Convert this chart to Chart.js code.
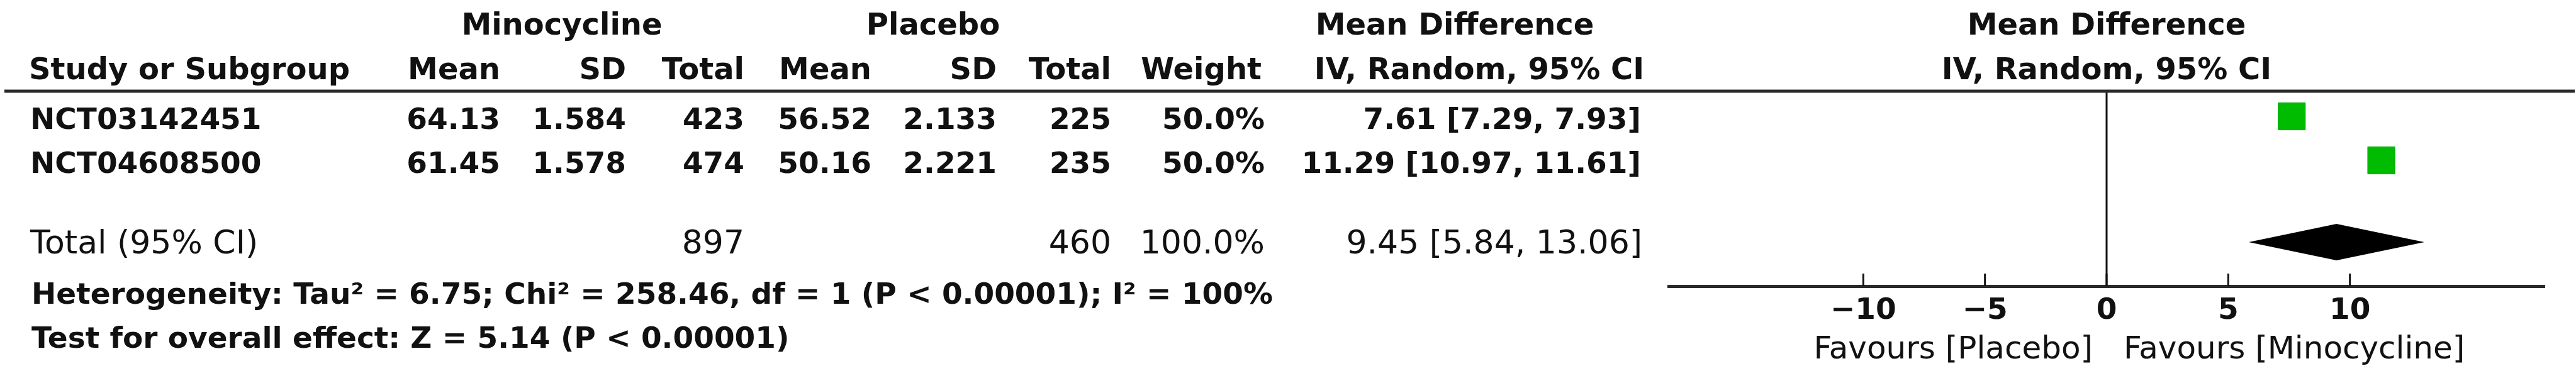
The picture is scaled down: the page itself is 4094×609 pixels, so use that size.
<!DOCTYPE html>
<html>
<head>
<meta charset="utf-8">
<script src="https://cdn.jsdelivr.net/npm/chart.js@4.4.1/dist/chart.umd.min.js"></script>
<style>
  html, body { margin: 0; padding: 0; background: #fff; }
  canvas { display: block; }
</style>
</head>
<body>
<canvas id="forest" width="4094" height="609"></canvas>
<script>
// study level data
const studyNames = ['NCT03142451', 'NCT04608500'];
const minoMean = [64.13, 61.45];
const minoSD = [1.584, 1.578];
const minoN = [423, 474];
const placMean = [56.52, 50.16];
const placSD = [2.133, 2.221];
const placN = [225, 235];
const weightPct = [50.0, 50.0];
const meanDiff = [7.61, 11.29];
const ciLow = [7.29, 10.97];
const ciHigh = [7.93, 11.61];

// pooled result
const totalMinoN = 897;
const totalPlacN = 460;
const totalWeight = 100.0;
const totalMD = 9.45;
const totalLow = 5.84;
const totalHigh = 13.06;

const tickValues = [-10, -5, 0, 5, 10];
const heterogeneity = 'Heterogeneity: Tau\u00b2 = 6.75; Chi\u00b2 = 258.46, df = 1 (P < 0.00001); I\u00b2 = 100%';
const overallTest = 'Test for overall effect: Z = 5.14 (P < 0.00001)';
const favoursLeft = 'Favours [Placebo]';
const favoursRight = 'Favours [Minocycline]';

// row slots on the y scale (row 3 is the blank spacer)
const rowPos = [1, 2];
const totalPos = 3.83;

const FAMILY = '"DejaVu Sans", "Liberation Sans", sans-serif';
const INK = '#111';

const fmtCI = (m, lo, hi) => `${m.toFixed(2)} [${lo.toFixed(2)}, ${hi.toFixed(2)}]`;

function put(ctx, str, x, y, align, font) {
  ctx.font = font;
  ctx.textAlign = align;
  ctx.textBaseline = 'alphabetic';
  ctx.fillText(str, x, y);
}

const forestTable = {
  id: 'forestTable',
  beforeDatasetsDraw(chart) {
    const { ctx, chartArea, scales: { x, y } } = chart;
    ctx.save();
    ctx.strokeStyle = INK;

    // line of no effect
    const x0 = x.getPixelForValue(0);
    ctx.lineWidth = 3;
    ctx.beginPath();
    ctx.moveTo(x0, chartArea.top);
    ctx.lineTo(x0, chartArea.bottom);
    ctx.stroke();

    // confidence intervals (hidden behind the squares here)
    meanDiff.forEach((_, i) => {
      const py = y.getPixelForValue(rowPos[i]);
      ctx.beginPath();
      ctx.moveTo(x.getPixelForValue(ciLow[i]), py);
      ctx.lineTo(x.getPixelForValue(ciHigh[i]), py);
      ctx.stroke();
    });

    // tick marks pointing up from the axis
    tickValues.forEach(v => {
      const px = x.getPixelForValue(v);
      ctx.beginPath();
      ctx.moveTo(px, chartArea.bottom - 20);
      ctx.lineTo(px, chartArea.bottom);
      ctx.stroke();
    });
    ctx.restore();
  },
  afterDatasetsDraw(chart) {
    const { ctx, scales: { x, y } } = chart;
    const py = y.getPixelForValue(totalPos) + 2;
    ctx.save();
    ctx.fillStyle = '#000';
    ctx.beginPath();
    ctx.moveTo(x.getPixelForValue(totalLow), py);
    ctx.lineTo(x.getPixelForValue(totalMD), py - 29);
    ctx.lineTo(x.getPixelForValue(totalHigh), py);
    ctx.lineTo(x.getPixelForValue(totalMD), py + 29);
    ctx.closePath();
    ctx.fill();
    ctx.restore();
  },
  afterDraw(chart) {
    const { ctx, chartArea, scales: { x, y } } = chart;
    ctx.save();

    // rule under the headers
    ctx.strokeStyle = '#2a2a2a';
    ctx.lineWidth = 5;
    ctx.beginPath();
    ctx.moveTo(7, chartArea.top);
    ctx.lineTo(4092, chartArea.top);
    ctx.stroke();

    ctx.fillStyle = INK;
    const head = `bold 48px ${FAMILY}`;
    const body = `bold 47px ${FAMILY}`;
    const tot = `52px ${FAMILY}`;
    const foot = `bold 47px ${FAMILY}`;

    // group headers
    put(ctx, 'Minocycline', 893, 55, 'center', head);
    put(ctx, 'Placebo', 1483, 55, 'center', head);
    put(ctx, 'Mean Difference', 2312, 55, 'center', head);
    put(ctx, 'Mean Difference', x.getPixelForValue(0), 55, 'center', head);

    // column headers
    put(ctx, 'Study or Subgroup', 46, 126, 'left', head);
    put(ctx, 'Mean', 795, 126, 'right', head);
    put(ctx, 'SD', 995, 126, 'right', head);
    put(ctx, 'Total', 1183, 126, 'right', head);
    put(ctx, 'Mean', 1385, 126, 'right', head);
    put(ctx, 'SD', 1584, 126, 'right', head);
    put(ctx, 'Total', 1766, 126, 'right', head);
    put(ctx, 'Weight', 2005, 126, 'right', head);
    put(ctx, 'IV, Random, 95% CI', 2351, 126, 'center', head);
    put(ctx, 'IV, Random, 95% CI', x.getPixelForValue(0), 126, 'center', head);

    // study rows
    studyNames.forEach((name, i) => {
      const b = y.getPixelForValue(rowPos[i]) + 20;
      put(ctx, name, 48, b, 'left', body);
      put(ctx, minoMean[i].toFixed(2), 795, b, 'right', body);
      put(ctx, minoSD[i].toFixed(3), 995, b, 'right', body);
      put(ctx, String(minoN[i]), 1183, b, 'right', body);
      put(ctx, placMean[i].toFixed(2), 1385, b, 'right', body);
      put(ctx, placSD[i].toFixed(3), 1584, b, 'right', body);
      put(ctx, String(placN[i]), 1766, b, 'right', body);
      put(ctx, weightPct[i].toFixed(1) + '%', 2010, b, 'right', body);
      put(ctx, fmtCI(meanDiff[i], ciLow[i], ciHigh[i]), 2608, b, 'right', body);
    });

    // pooled row
    const tb = y.getPixelForValue(totalPos) + 20;
    put(ctx, 'Total (95% CI)', 48, tb, 'left', tot);
    put(ctx, String(totalMinoN), 1183, tb, 'right', tot);
    put(ctx, String(totalPlacN), 1766, tb, 'right', tot);
    put(ctx, totalWeight.toFixed(1) + '%', 2010, tb, 'right', tot);
    put(ctx, fmtCI(totalMD, totalLow, totalHigh), 2610, tb, 'right', tot);

    // footnotes
    put(ctx, heterogeneity, 50, 483, 'left', foot);
    put(ctx, overallTest, 50, 553, 'left', foot);

    // favours labels
    const x0 = x.getPixelForValue(0);
    put(ctx, favoursLeft, x0 - 22, 570, 'right', `50px ${FAMILY}`);
    put(ctx, favoursRight, x0 + 27, 570, 'left', `50px ${FAMILY}`);

    ctx.restore();
  }
};

new Chart(document.getElementById('forest'), {
  type: 'scatter',
  data: {
    datasets: [{
      data: meanDiff.map((v, i) => ({ x: v, y: rowPos[i] })),
      pointStyle: 'rect',
      pointRadius: 30.5,
      backgroundColor: '#00bc00',
      borderColor: '#00a800',
      borderWidth: 1
    }]
  },
  options: {
    responsive: false,
    animation: false,
    events: [],
    devicePixelRatio: 1,
    layout: { padding: { left: 2652, right: 50, top: 145, bottom: 0 } },
    plugins: {
      legend: { display: false },
      tooltip: { enabled: false },
      title: { display: false }
    },
    scales: {
      x: {
        type: 'linear',
        min: -18,
        max: 18,
        afterBuildTicks: s => { s.ticks = tickValues.map(v => ({ value: v })); },
        afterFit: s => { s.height = 154; },
        ticks: {
          autoSkip: false,
          maxRotation: 0,
          padding: 12,
          color: INK,
          font: { family: FAMILY, size: 47, weight: 'bold' },
          callback: v => (v < 0 ? '\u2212' + Math.abs(v) : String(v))
        },
        grid: { display: true, drawOnChartArea: false, drawTicks: false },
        border: { display: true, color: '#2a2a2a', width: 5 }
      },
      y: {
        type: 'linear',
        display: false,
        reverse: true,
        min: 0.4286,
        max: 4.857
      }
    }
  },
  plugins: [forestTable]
});
</script>
</body>
</html>
